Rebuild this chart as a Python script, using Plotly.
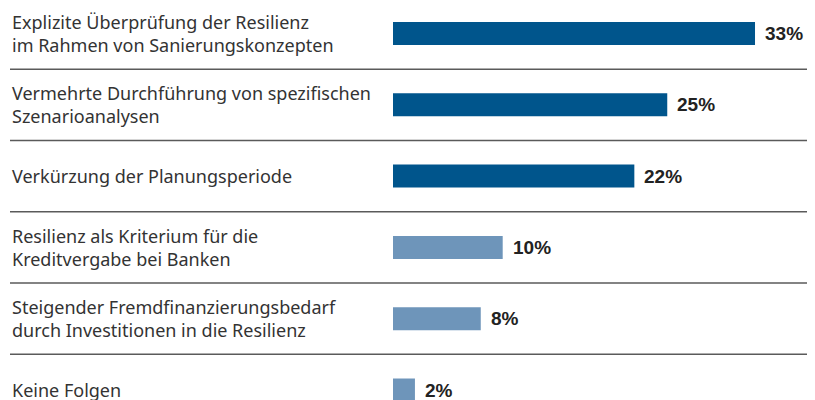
import plotly.graph_objects as go

categories = [
    "Explizite Überprüfung der Resilienz<br>im Rahmen von Sanierungskonzepten",
    "Vermehrte Durchführung von spezifischen<br>Szenarioanalysen",
    "Verkürzung der Planungsperiode",
    "Resilienz als Kriterium für die<br>Kreditvergabe bei Banken",
    "Steigender Fremdfinanzierungsbedarf<br>durch Investitionen in die Resilienz",
    "Keine Folgen",
]
values = [33, 25, 22, 10, 8, 2]
value_labels = ["33%", "25%", "22%", "10%", "8%", "2%"]
bar_colors = ["#00558C", "#00558C", "#00558C", "#6E95BA", "#6E95BA", "#6E95BA"]

W, H = 815, 400
OFF = 8              # page body margin offset
x0_px = 393.0 - OFF  # pixel where 0% lies (within figure)
px_per_unit = 10.97  # pixels per percentage point
row0_px = 33.5 - OFF # pixel centre of first row
row_px = 71.3        # row pitch
label_left_px = 10 - OFF

x_range = [-x0_px / px_per_unit, (W - x0_px) / px_per_unit]
y_range = [(H - row0_px) / row_px, -row0_px / row_px]

idx = list(range(len(categories)))

fig = go.Figure()
fig.add_trace(go.Bar(
    x=values, y=idx, orientation="h",
    marker=dict(color=bar_colors, line=dict(width=0)),
    width=23 / row_px,
    hoverinfo="skip",
))

for i, (v, t) in enumerate(zip(values, value_labels)):
    fig.add_annotation(
        x=v, y=i, text="<b>" + t + "</b>", showarrow=False, xanchor="left", yanchor="middle",
        xshift=8, font=dict(family="Liberation Sans", size=19, color="#222222"),
    )

label_x = x_range[0] + label_left_px / px_per_unit
for i, c in enumerate(categories):
    fig.add_annotation(
        x=label_x, y=i, text=c, showarrow=False, xanchor="left", yanchor="middle",
        align="left", font=dict(family="Noto Sans", size=18, color="#333333"),
    )

for i in range(len(categories) - 1):
    fig.add_shape(type="line", x0=label_x, x1=x_range[1], y0=i + 0.5, y1=i + 0.5,
                  line=dict(color="#5a5a5a", width=1.5))

fig.update_layout(
    width=W, height=H, margin=dict(l=0, r=0, t=0, b=0),
    paper_bgcolor="white", plot_bgcolor="white", showlegend=False,
    xaxis=dict(range=x_range, visible=False, fixedrange=True),
    yaxis=dict(range=y_range, visible=False, fixedrange=True),
)
fig.write_html("out.html")
